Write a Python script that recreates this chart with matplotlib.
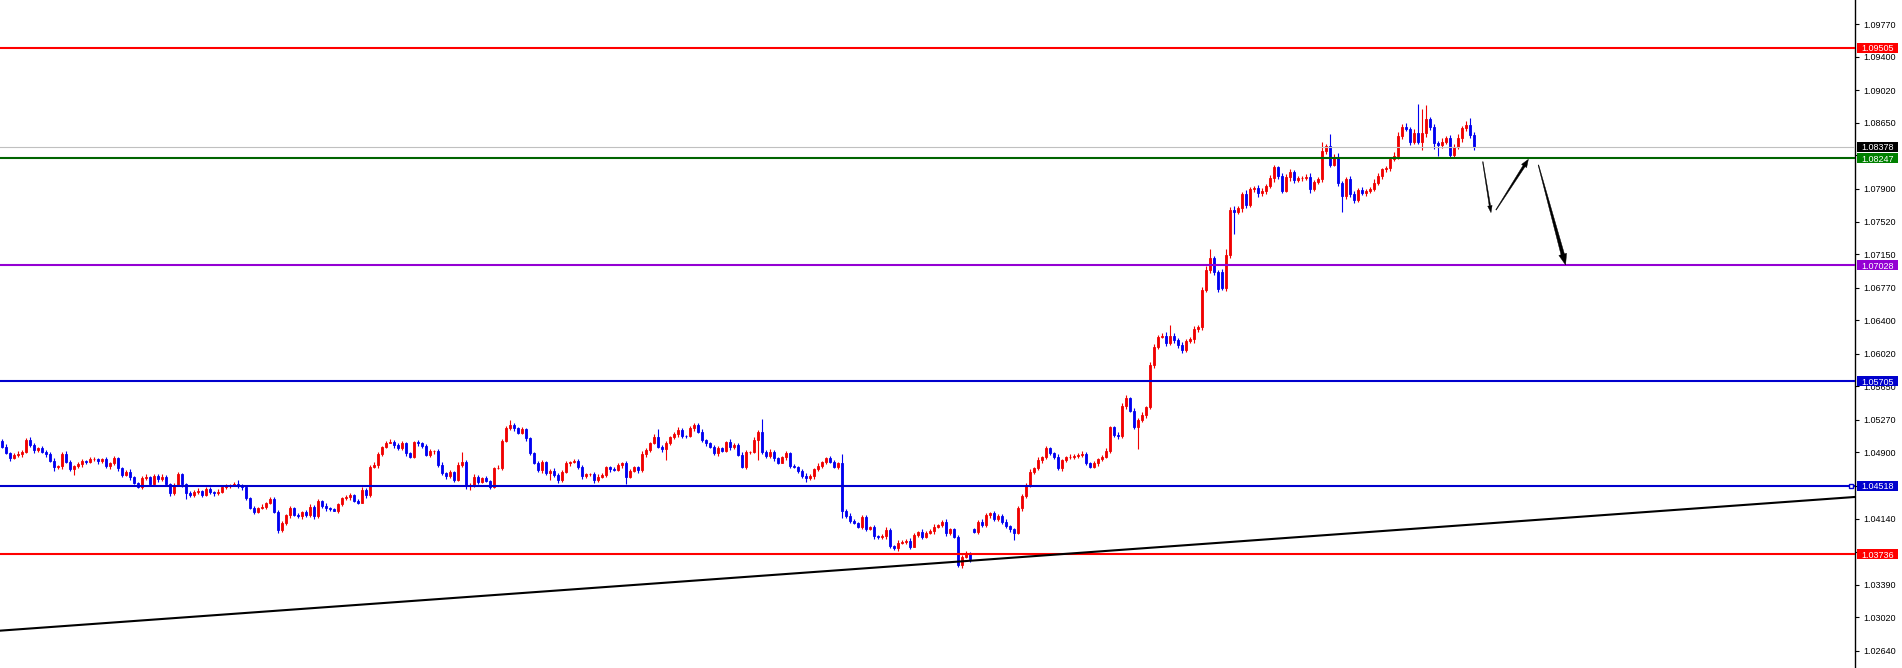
import matplotlib
matplotlib.use("Agg")
import matplotlib.pyplot as plt
import matplotlib.transforms as mtransforms
from matplotlib.patches import Polygon, Rectangle
import numpy as np

plt.rcParams['font.family'] = ['Liberation Sans', 'DejaVu Sans']

# candle closes (one per bar, oldest first)
closes = [
    1.04963, 1.04895, 1.04830, 1.04868, 1.04880, 1.04906, 1.05039, 1.04982, 1.04925, 1.04944, 1.04906, 1.04880, 1.04800, 1.04728, 1.04743, 1.04880, 1.04793, 1.04705, 1.04743, 1.04766,
    1.04804, 1.04785, 1.04819, 1.04826, 1.04800, 1.04819, 1.04740, 1.04773, 1.04830, 1.04717, 1.04641, 1.04679, 1.04614, 1.04553, 1.04508, 1.04603, 1.04622, 1.04538, 1.04629, 1.04595,
    1.04622, 1.04538, 1.04432, 1.04527, 1.04648, 1.04538, 1.04440, 1.04413, 1.04451, 1.04459, 1.04413, 1.04478, 1.04443, 1.04432, 1.04451, 1.04508, 1.04515, 1.04525, 1.04538, 1.04515,
    1.04500, 1.04375, 1.04269, 1.04223, 1.04261, 1.04280, 1.04326, 1.04364, 1.04223, 1.04015, 1.04091, 1.04185, 1.04261, 1.04185, 1.04170, 1.04223, 1.04185, 1.04280, 1.04174, 1.04349,
    1.04288, 1.04261, 1.04250, 1.04235, 1.04311, 1.04375, 1.04387, 1.04413, 1.04349, 1.04326, 1.04470, 1.04413, 1.04736, 1.04755, 1.04880, 1.04963, 1.05009, 1.05020, 1.04982, 1.04944,
    1.05001, 1.04887, 1.04849, 1.05012, 1.05001, 1.04970, 1.04868, 1.04910, 1.04917, 1.04754, 1.04659, 1.04629, 1.04678, 1.04583, 1.04754, 1.04792, 1.04515, 1.04526, 1.04621, 1.04564,
    1.04602, 1.04576, 1.04507, 1.04716, 1.04725, 1.05031, 1.05171, 1.05209, 1.05171, 1.05122, 1.05160, 1.05058, 1.04887, 1.04773, 1.04697, 1.04792, 1.04659, 1.04686, 1.04640, 1.04583,
    1.04678, 1.04773, 1.04785, 1.04800, 1.04727, 1.04629, 1.04648, 1.04655, 1.04583, 1.04621, 1.04640, 1.04727, 1.04705, 1.04700, 1.04754, 1.04773, 1.04621, 1.04689, 1.04727, 1.04697,
    1.04879, 1.04925, 1.05001, 1.05077, 1.04963, 1.04932, 1.05001, 1.05069, 1.05107, 1.05152, 1.05084, 1.05080, 1.05171, 1.05209, 1.05133, 1.05039, 1.05001, 1.04963, 1.04887, 1.04944,
    1.04917, 1.05020, 1.04955, 1.04982, 1.04868, 1.04735, 1.04900, 1.04906, 1.05039, 1.05133, 1.04906, 1.04856, 1.04906, 1.04830, 1.04781, 1.04841, 1.04887, 1.04743, 1.04735, 1.04689,
    1.04629, 1.04602, 1.04629, 1.04705, 1.04743, 1.04792, 1.04830, 1.04792, 1.04735, 1.04773, 1.04230, 1.04174, 1.04121, 1.04098, 1.04052, 1.04159, 1.04022, 1.04045, 1.03946, 1.03931,
    1.03946, 1.04015, 1.03832, 1.03806, 1.03870, 1.03880, 1.03890, 1.03825, 1.03958, 1.03996, 1.03939, 1.03984, 1.04000, 1.04052, 1.04071, 1.04109, 1.03977, 1.04022, 1.03939, 1.03616,
    1.03711, 1.03749, 1.03681, 1.03995, 1.04109, 1.04071, 1.04185, 1.04204, 1.04135, 1.04174, 1.04109, 1.04060, 1.04022, 1.03984, 1.04261, 1.04401, 1.04526, 1.04678, 1.04716, 1.04811,
    1.04841, 1.04943, 1.04886, 1.04848, 1.04716, 1.04811, 1.04841, 1.04848, 1.04856, 1.04867, 1.04879, 1.04780, 1.04735, 1.04773, 1.04818, 1.04848, 1.04917, 1.05183, 1.05095, 1.05084,
    1.05425, 1.05512, 1.05372, 1.05190, 1.05266, 1.05323, 1.05410, 1.05892, 1.06100, 1.06215, 1.06223, 1.06147, 1.06223, 1.06177, 1.06121, 1.06064, 1.06170, 1.06185, 1.06299, 1.06322,
    1.06747, 1.06974, 1.07107, 1.06955, 1.06754, 1.06766, 1.07145, 1.07657, 1.07638, 1.07676, 1.07839, 1.07714, 1.07892, 1.07911, 1.07847, 1.07873, 1.07930, 1.08018, 1.08143, 1.08044,
    1.07877, 1.08029, 1.08094, 1.07999, 1.08018, 1.08025, 1.08035, 1.07892, 1.07980, 1.08006, 1.08330, 1.08383, 1.08174, 1.08264, 1.07961, 1.07817, 1.08006, 1.07839, 1.07771, 1.07885,
    1.07854, 1.07877, 1.07892, 1.07968, 1.08044, 1.08120, 1.08130, 1.08234, 1.08272, 1.08499, 1.08606, 1.08575, 1.08435, 1.08537, 1.08435, 1.08530, 1.08689, 1.08598, 1.08416, 1.08397,
    1.08435, 1.08473, 1.08283, 1.08378, 1.08473, 1.08587, 1.08625, 1.08511, 1.08378,
]

# bars whose open is not the previous close (first bar, weekend gap etc.)
gap_opens = {0: 1.05031, 243: 1.04020, 305: 1.06955}

# wick lengths above / below the body, in pips
upper_wick = [
    2, 3, 1, 2, 3, 2, 2, 3, 2, 1, 3, 2, 2, 3, 1, 2, 3, 2, 1, 2,
    2, 1, 3, 2, 1, 2, 3, 2, 3, 2, 1, 2, 3, 2, 1, 2, 3, 1, 2, 2,
    3, 2, 1, 2, 3, 2, 1, 2, 2, 3, 1, 2, 2, 1, 3, 2, 2, 1, 2, 5,
    2, 3, 1, 2, 2, 3, 1, 2, 3, 2, 2, 1, 3, 2, 2, 1, 2, 3, 2, 2,
    1, 3, 2, 2, 1, 2, 3, 2, 1, 2, 3, 2, 2, 3, 2, 1, 2, 3, 2, 2,
    3, 2, 1, 2, 3, 2, 2, 3, 1, 2, 3, 2, 2, 1, 3, 11, 2, 2, 3, 2,
    2, 3, 1, 2, 3, 2, 3, 6, 2, 2, 3, 1, 2, 2, 3, 2, 1, 2, 3, 2,
    2, 3, 1, 2, 2, 3, 2, 1, 2, 3, 2, 2, 1, 3, 2, 2, 3, 2, 1, 2,
    3, 2, 2, 3, 9, 2, 3, 2, 2, 3, 2, 1, 3, 2, 2, 3, 1, 2, 2, 3,
    2, 1, 3, 2, 2, 3, 2, 1, 3, 2, 14, 2, 3, 2, 1, 2, 3, 2, 2, 1,
    2, 3, 2, 2, 3, 1, 2, 3, 2, 2, 11, 2, 3, 2, 1, 3, 2, 2, 3, 1,
    2, 3, 2, 1, 3, 2, 2, 3, 2, 1, 3, 2, 2, 3, 1, 2, 3, 2, 2, 2,
    2, 3, 2, 2, 2, 3, 2, 1, 3, 2, 2, 3, 1, 2, 3, 2, 2, 3, 2, 3,
    2, 3, 2, 2, 3, 1, 2, 3, 2, 2, 3, 2, 1, 3, 2, 2, 3, 2, 2, 3,
    3, 4, 2, 3, 2, 3, 2, 3, 3, 2, 3, 4, 12, 3, 2, 3, 2, 3, 4, 3,
    3, 4, 10, 3, 2, 3, 7, 3, 4, 3, 2, 4, 3, 2, 3, 3, 2, 4, 3, 2,
    3, 4, 3, 2, 3, 2, 3, 4, 2, 3, 10, 3, 14, 3, 4, 2, 3, 4, 3, 2,
    3, 2, 3, 4, 3, 2, 3, 3, 4, 5, 3, 4, 3, 4, 33, 28, 16, 3, 4, 3,
    4, 3, 4, 3, 5, 3, 4, 8, 3,
]
lower_wick = [
    2, 2, 3, 1, 2, 3, 2, 2, 3, 2, 2, 3, 1, 4, 2, 3, 2, 2, 6, 2,
    3, 2, 1, 2, 3, 2, 2, 3, 2, 3, 2, 1, 3, 2, 2, 3, 2, 1, 2, 3,
    2, 2, 3, 2, 1, 3, 7, 2, 2, 3, 2, 1, 2, 3, 2, 2, 3, 2, 1, 2,
    3, 2, 2, 3, 2, 1, 3, 2, 2, 3, 2, 2, 3, 1, 2, 3, 2, 2, 3, 2,
    2, 3, 2, 1, 3, 2, 2, 3, 2, 2, 1, 3, 2, 2, 3, 2, 2, 1, 3, 2,
    2, 3, 2, 2, 3, 2, 1, 2, 3, 2, 2, 3, 2, 2, 1, 2, 4, 5, 2, 3,
    2, 2, 3, 2, 1, 3, 2, 2, 3, 2, 2, 3, 2, 1, 2, 3, 2, 8, 2, 3,
    2, 2, 3, 1, 2, 3, 2, 2, 3, 2, 1, 2, 3, 2, 2, 3, 8, 2, 2, 3,
    2, 3, 2, 1, 2, 3, 12, 2, 2, 3, 2, 2, 1, 3, 2, 2, 3, 2, 2, 3,
    2, 2, 3, 2, 1, 2, 3, 2, 2, 23, 3, 2, 2, 3, 2, 1, 3, 2, 2, 3,
    2, 4, 2, 3, 2, 2, 3, 2, 2, 3, 8, 2, 3, 2, 2, 3, 2, 1, 3, 2,
    2, 3, 2, 2, 3, 2, 2, 3, 1, 2, 3, 2, 2, 3, 2, 2, 3, 2, 2, 2,
    4, 2, 3, 2, 3, 2, 2, 3, 2, 2, 3, 2, 3, 8, 2, 3, 2, 2, 3, 2,
    3, 2, 2, 3, 2, 3, 2, 2, 3, 2, 2, 3, 2, 2, 3, 2, 2, 3, 2, 3,
    2, 3, 2, 3, 25, 2, 3, 2, 3, 3, 2, 4, 3, 3, 4, 3, 2, 3, 4, 3,
    3, 2, 3, 4, 3, 2, 3, 4, 25, 3, 4, 3, 2, 3, 4, 3, 3, 2, 4, 3,
    3, 2, 4, 3, 2, 3, 3, 4, 2, 3, 3, 4, 3, 2, 3, 18, 3, 4, 3, 2,
    3, 4, 3, 2, 3, 4, 3, 3, 2, 4, 3, 2, 4, 3, 3, 9, 4, 3, 7, 13,
    3, 3, 2, 2, 3, 4, 3, 3, 4,
]

# horizontal levels drawn on the chart
level_prices = [1.09505, 1.08378, 1.08247, 1.07028, 1.05705, 1.04518, 1.03736]
level_line_colors = ['#FF0000', '#C0C0C0', '#006400', '#9400D3', '#0000CD', '#0000CD', '#FF0000']
level_box_colors = ['#FF0000', '#000000', '#008000', '#9400D3', '#0000CD', '#0000CD', '#FF0000']
level_widths = [1.5, 0.8, 1.5, 1.5, 1.5, 1.5, 1.5]

# price scale ticks
y_ticks = [1.09770, 1.09400, 1.09020, 1.08650, 1.08280, 1.07900, 1.07520, 1.07150, 1.06770,
           1.06400, 1.06020, 1.05650, 1.05270, 1.04900, 1.04520, 1.04140, 1.03760, 1.03390,
           1.03020, 1.02640]

# rising trendline: two anchor points (bar, price)
trend_bars = [-0.5, 463.25]
trend_prices = [1.02868, 1.04390]

# hand drawn arrows: (bar0, price0, bar1, price1), widths in px (tail, shaft end, head, head length)
arrows = [
    (370.2, 1.08206, 372.25, 1.07626),
    (373.5, 1.07657, 381.6, 1.08234),
    (384.1, 1.08169, 390.9, 1.07031),
]
arrow_sizes = [(0.6, 1.4, 4.5, 7), (0.6, 2.4, 6, 8), (0.6, 3.5, 8, 11)]

PIP = 0.0001
W, H = 1902, 668
AXIS_PX = 1855


def build_ohlc():
    opens, highs, lows = [], [], []
    for i, c in enumerate(closes):
        o = gap_opens.get(i, closes[i - 1] if i > 0 else c)
        opens.append(o)
        highs.append(max(o, c) + upper_wick[i] * PIP)
        lows.append(min(o, c) - lower_wick[i] * PIP)
    return np.array(opens), np.array(highs), np.array(lows), np.array(closes)


def draw_candles(ax):
    o, h, l, c = build_ohlc()
    x = np.arange(len(c))
    up = c >= o
    cols = np.where(up, '#F00000', '#0000F0')
    ax.vlines(x, l, h, colors=cols, lw=0.8, zorder=2)
    ax.bar(x, np.abs(c - o), bottom=np.minimum(o, c), width=0.55, color=cols,
           edgecolor=cols, linewidth=0.6, zorder=2)


def draw_arrow(ax, a, size):
    tw, sw, hw, hl = size
    p0 = ax.transData.transform((a[0], a[1]))
    p1 = ax.transData.transform((a[2], a[3]))
    u = (p1 - p0) / np.hypot(*(p1 - p0))
    n = np.array([-u[1], u[0]])
    hb = p1 - u * hl
    pts = [p0 + n * tw / 2, hb + n * sw / 2, hb + n * hw / 2, p1,
           hb - n * hw / 2, hb - n * sw / 2, p0 - n * tw / 2]
    pts = ax.transData.inverted().transform(np.array(pts))
    ax.add_patch(Polygon(pts, closed=True, fc='black', ec='black', lw=0.3, zorder=4))


fig = plt.figure(figsize=(W / 100, H / 100), dpi=100)
fig.patch.set_facecolor('white')
ax = fig.add_axes([0, 0, AXIS_PX / W, 1])
ax.set_facecolor('white')
ax.set_xlim(-0.5, 463.25)
ax.set_ylim(1.02443, 1.10047)

draw_candles(ax)

# levels
for p, lc, lw in zip(level_prices, level_line_colors, level_widths):
    ax.axhline(p, color=lc, lw=lw, zorder=3)
ax.plot([462.2], [level_prices[5]], marker='s', ms=3.2, mfc='white', mec='#0000CD', mew=1.0,
        zorder=4, clip_on=False)

# trendline
ax.plot(trend_bars, trend_prices, color='black', lw=1.5, zorder=3)

for a, s in zip(arrows, arrow_sizes):
    draw_arrow(ax, a, s)

# axes styling
for side in ['top', 'left', 'bottom']:
    ax.spines[side].set_visible(False)
ax.spines['right'].set_color('black')
ax.spines['right'].set_linewidth(1.0)
ax.set_xticks([])
ax.yaxis.tick_right()
ax.set_yticks(y_ticks)
ax.set_yticklabels([f'{v:.5f}' for v in y_ticks])
ax.tick_params(axis='y', direction='out', length=3, width=0.8, pad=3, labelsize=6.5,
               colors='black')

# price boxes on the scale
blend = mtransforms.blended_transform_factory(ax.transAxes, ax.transData)
box_h = 10 * (1.10047 - 1.02443) / H
for p, bc in zip(level_prices, level_box_colors):
    ax.add_patch(Rectangle((1856.5 / AXIS_PX, p - box_h / 2), 41.5 / AXIS_PX, box_h,
                           transform=blend, fc=bc, ec='none', clip_on=False, zorder=5))
    ax.text(1861 / AXIS_PX, p, f'{p:.5f}', transform=blend, color='white', fontsize=6.5,
            ha='left', va='center_baseline', zorder=6, clip_on=False)

fig.savefig('out.png', dpi=100, facecolor='white')
